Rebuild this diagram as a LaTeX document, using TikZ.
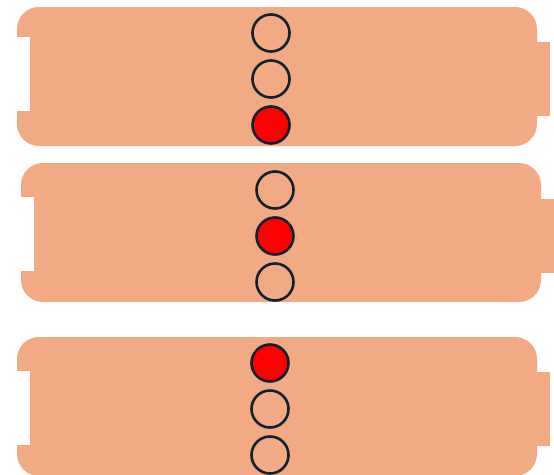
\documentclass[tikz,border=0pt]{standalone}
\usetikzlibrary{positioning}
\definecolor{bodysalmon}{RGB}{242,170,133}
\definecolor{ringnavy}{RGB}{16,34,48}
\definecolor{litred}{RGB}{255,0,0}

\begin{document}
\begin{tikzpicture}[x=1pt, y=-1pt,
    panel/.style={fill=bodysalmon, rounded corners=22pt},
    notch/.style={fill=white},
    tab/.style={fill=bodysalmon},
    lamp/.style={circle, draw=ringnavy, line width=2.6pt, minimum size=37pt,
                 inner sep=0pt, node distance=6.4pt},
    lampon/.style={lamp, fill=litred}
]
\useasboundingbox (0,0) rectangle (554,474);

% Top panel
\fill[panel] (17,7) rectangle (537,146);
\fill[notch] (16,37) rectangle (30,111);
\fill[tab] (536,42) rectangle (550,116);
\node[lamp] (topA) at (271,33) {};
\node[lamp, below=of topA] (topB) {};
\node[lampon, below=of topB] (topC) {};

% Middle panel
\fill[panel] (21,163) rectangle (541,302);
\fill[notch] (20,197) rectangle (34,271);
\fill[tab] (540,199) rectangle (555,273);
\node[lamp] (midA) at (275,190) {};
\node[lampon, below=of midA] (midB) {};
\node[lamp, below=of midB] (midC) {};

% Bottom panel
\fill[panel] (17,337) rectangle (537,476);
\fill[notch] (16,371) rectangle (30,445);
\fill[tab] (536,372) rectangle (550,446);
\node[lampon] (botA) at (270,363) {};
\node[lamp, below=of botA] (botB) {};
\node[lamp, below=of botB] (botC) {};

\end{tikzpicture}
\end{document}
